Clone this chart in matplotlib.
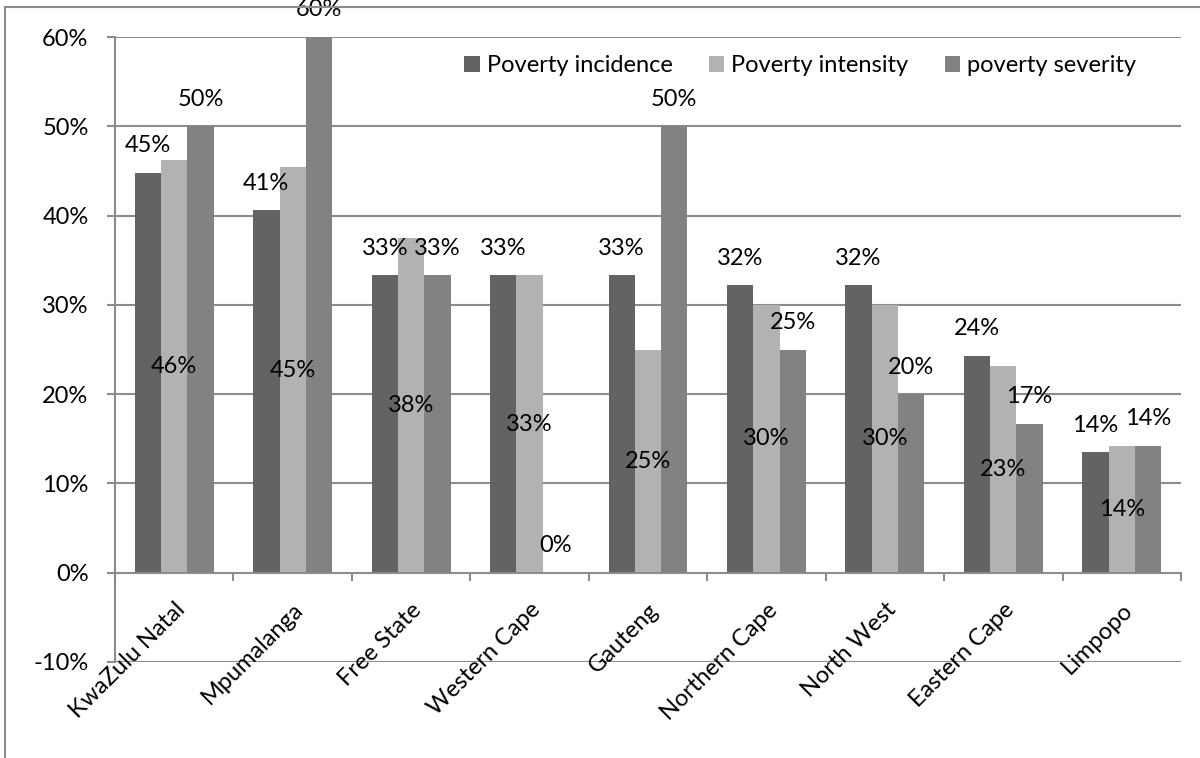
import numpy as np
import matplotlib
matplotlib.use("Agg")
import matplotlib.pyplot as plt
from matplotlib.lines import Line2D
from matplotlib.ticker import FixedLocator, FuncFormatter

# ── data ─────────────────────────────────────────────────────────────────────
provinces = ["KwaZulu Natal", "Mpumalanga", "Free State", "Western Cape", "Gauteng",
             "Northern Cape", "North West", "Eastern Cape", "Limpopo"]
incidence = [44.8, 40.6, 33.3, 33.3, 33.3, 32.2, 32.2, 24.3, 13.5]
intensity = [46.2, 45.4, 37.5, 33.3, 25.0, 30.0, 30.0, 23.1, 14.2]
severity = [50.0, 60.0, 33.3, 0.0, 50.0, 25.0, 20.0, 16.7, 14.2]
series_names = ["Poverty incidence", "Poverty intensity", "poverty severity"]
yticks = [-10, 0, 10, 20, 30, 40, 50, 60]

# ── style ────────────────────────────────────────────────────────────────────
plt.rcParams["font.family"] = ["Lato", "DejaVu Sans"]
FS = 17
colors = ["#636363", "#b2b2b2", "#828282"]
grid_c = "#8c8c8c"

fig = plt.figure(figsize=(12, 7.58), dpi=100)
ax = fig.add_axes([115 / 1200, 1 - 662 / 758, 1066 / 1200, 625 / 758])

x = np.arange(len(provinces))
w = 0.222
series = [incidence, intensity, severity]
for i, (vals, c, name) in enumerate(zip(series, colors, series_names)):
    xpos = x + (i - 1) * w
    ax.bar(xpos, vals, width=w, color=c, label=name, zorder=3)
    for xp, v in zip(xpos, vals):
        txt = f"{v:.0f}%"
        if i == 1:
            # intensity labels sit in the middle of the bar
            ax.text(xp, v / 2, txt, ha="center", va="center", fontsize=FS, zorder=5)
        else:
            ax.annotate(txt, (xp, v), xytext=(0, 19.5), textcoords="offset points",
                        ha="center", va="center", fontsize=FS, zorder=5,
                        annotation_clip=False)

ax.set_xlim(-0.5, len(provinces) - 0.5)
ax.set_ylim(-10, 60)

# gridlines
for t in yticks:
    if t != 0:
        ax.axhline(t, color=grid_c, lw=1.5, zorder=1)

ax.yaxis.set_major_locator(FixedLocator(yticks))
ax.yaxis.set_major_formatter(FuncFormatter(lambda v, p: f"{v:.0f}%"))
ax.tick_params(axis="y", direction="out", length=6, width=1.5, color=grid_c,
               labelsize=FS, pad=13)

# category axis sits at 0
ax.spines["bottom"].set_position(("data", 0))
ax.spines["bottom"].set_color(grid_c)
ax.spines["bottom"].set_linewidth(1.5)
ax.spines["bottom"].set_zorder(4)
ax.spines["left"].set_color(grid_c)
ax.spines["left"].set_linewidth(1.5)
ax.spines["top"].set_visible(False)
ax.spines["right"].set_visible(False)

ax.set_xticks(x)
ax.set_xticklabels(provinces, rotation=45, ha="right", va="top",
                   rotation_mode="anchor", fontsize=FS)
ax.tick_params(axis="x", which="major", length=0, pad=19)
ax.set_xticks(np.arange(len(provinces) + 1) - 0.5, minor=True)
ax.tick_params(axis="x", which="minor", direction="out", length=6, width=1.5,
               color=grid_c)

ax.legend(loc="center right", bbox_to_anchor=(0.958, 0.954), ncol=3, frameon=False,
          fontsize=FS, handlelength=0.64, handleheight=0.64, handletextpad=0.3,
          columnspacing=1.55, borderaxespad=0, borderpad=0)

# outer chart border (clipped at right and bottom in the reference)
fig.add_artist(Line2D([5 / 1200, 1.0], [1 - 7 / 758] * 2, color=grid_c, lw=1.5))
fig.add_artist(Line2D([5 / 1200] * 2, [0.0, 1 - 7 / 758], color=grid_c, lw=1.5))

fig.savefig("out.png", dpi=100)
